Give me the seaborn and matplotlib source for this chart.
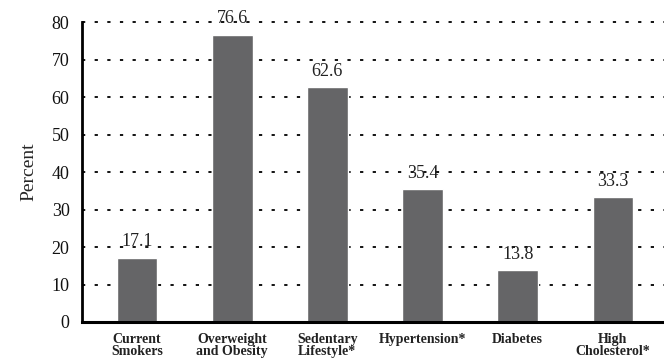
import pandas as pd
import numpy as np
import matplotlib.pyplot as plt
import seaborn as sns

categories = ["Current\nSmokers", "Overweight\nand Obesity", "Sedentary\nLifestyle*",
              "Hypertension*", "Diabetes", "High\nCholesterol*"]
percent = [17.1, 76.6, 62.6, 35.4, 13.8, 33.3]
yticks = [0, 10, 20, 30, 40, 50, 60, 70, 80]

df = pd.DataFrame({"Risk": categories, "Percent": percent})

sns.set_style("white")
plt.rcParams["font.family"] = ["Liberation Serif", "DejaVu Serif"]

fig = plt.figure(figsize=(6.64, 3.62), dpi=100)
ax = fig.add_axes([0.1235, 0.1105, 0.8765, 0.8285])

# dotted reference lines behind the bars
for y in yticks[1:]:
    ax.axhline(y, color="black", lw=1.3, ls=(0, (1.8, 5.2)), zorder=0, clip_on=False)

sns.barplot(data=df, x="Risk", y="Percent", color="#656567", width=0.43,
            saturation=1, ax=ax, zorder=2)

for i, v in enumerate(percent):
    ax.text(i, v + 2.0, f"{v:.1f}", ha="center", va="bottom", fontsize=13,
            color="#222222", zorder=3)

ax.set_xlim(-0.578, 5.536)
ax.set_ylim(0, 80)
ax.set_yticks(yticks)
ax.set_yticklabels([str(t) for t in yticks], fontsize=13, color="#111111")
ax.tick_params(axis="y", direction="inout", length=8, width=1.8, pad=5)
ax.tick_params(axis="x", length=0, pad=8)
for lab in ax.get_xticklabels():
    lab.set_fontsize(10)
    lab.set_fontweight("bold")
    lab.set_color("#222222")
    lab.set_linespacing(0.9)
ax.set_xlabel("")
ax.set_ylabel("Percent", fontsize=14, labelpad=10)

sns.despine(ax=ax, top=True, right=True)
ax.spines["left"].set_linewidth(2)
ax.spines["bottom"].set_linewidth(2.2)
ax.spines["left"].set_color("black")
ax.spines["bottom"].set_color("black")

fig.savefig("out.png", dpi=100)
